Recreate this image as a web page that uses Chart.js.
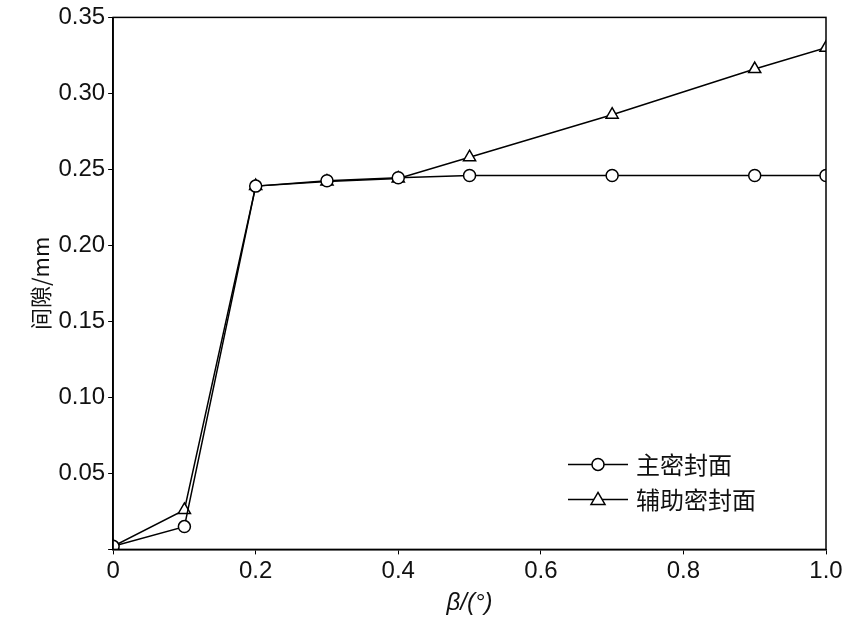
<!DOCTYPE html>
<html><head><meta charset="utf-8">
<script src="https://cdn.jsdelivr.net/npm/chart.js@4/dist/chart.umd.min.js"></script>
<style>body{margin:0;background:#fff}#wrap{width:846px;height:626px}</style>
</head><body><div id="wrap"><canvas id="c"></canvas></div>
<script>
const betaValues = [0, 0.1, 0.2, 0.3, 0.4, 0.5, 0.7, 0.9, 1.0];
const mainSeal = [0.002, 0.015, 0.239, 0.2425, 0.2445, 0.246, 0.246, 0.246, 0.246];
const auxSeal = [0.002, 0.026, 0.239, 0.242, 0.244, 0.258, 0.286, 0.316, 0.330];
const seriesNames = ['主密封面', '辅助密封面'];

const font = "'Liberation Sans', Arial, sans-serif";

const frame = {
  id: 'frame',
  afterDraw(chart) {
    const {ctx, chartArea: a} = chart;
    ctx.save();
    ctx.strokeStyle = '#000'; ctx.lineWidth = 1.5;
    ctx.strokeRect(a.left, a.top, a.right - a.left, a.bottom - a.top);
    // legend
    const lx = a.right - 258, ly = [a.bottom - 85, a.bottom - 50];
    ctx.font = "24px 'Noto Sans CJK SC'";
    ctx.fillStyle = '#111'; ctx.textBaseline = 'middle';
    seriesNames.forEach((n, i) => {
      const y = ly[i];
      ctx.lineWidth = 1.5;
      ctx.beginPath(); ctx.moveTo(lx, y); ctx.lineTo(lx + 60, y); ctx.stroke();
      ctx.beginPath();
      if (i === 0) { ctx.arc(lx + 30, y, 6, 0, Math.PI * 2); }
      else { ctx.moveTo(lx + 30, y - 7); ctx.lineTo(lx + 37, y + 5); ctx.lineTo(lx + 23, y + 5); ctx.closePath(); }
      ctx.fillStyle = '#fff'; ctx.fill(); ctx.stroke();
      ctx.fillStyle = '#111';
      ctx.fillText(n, lx + 68, y);
    });
    ctx.restore();
  }
};

new Chart(document.getElementById('c'), {
  type: 'line',
  data: {
    datasets: [
      { label: seriesNames[0], data: betaValues.map((x, i) => ({x, y: mainSeal[i]})), borderColor: '#000', borderWidth: 1.5, backgroundColor: '#fff', pointStyle: 'circle', pointRadius: 6, pointBorderWidth: 1.5, tension: 0 },
      { label: seriesNames[1], data: betaValues.map((x, i) => ({x, y: auxSeal[i]})), borderColor: '#000', borderWidth: 1.5, backgroundColor: '#fff', pointStyle: 'triangle', pointRadius: 7, pointBorderWidth: 1.5, tension: 0 }
    ]
  },
  options: {
    responsive: true, maintainAspectRatio: false, animation: false,
    layout: { padding: { top: 12, right: 20, bottom: 0, left: 23 } },
    plugins: { legend: { display: false }, tooltip: { enabled: false } },
    scales: {
      x: {
        type: 'linear', min: 0, max: 1,
        grid: { display: true, drawOnChartArea: false, tickLength: 5, color: '#000' },
        border: { color: '#000', width: 1.5 },
        ticks: { stepSize: 0.2, color: '#111', font: { family: font, size: 24 }, callback: v => v === 0 ? '0' : (v === 1 ? '1.0' : String(+v.toFixed(1))) },
        title: { display: true, text: 'β/(°)', color: '#111', font: { family: font, size: 24, style: 'italic' }, padding: { top: 0, bottom: 8 } }
      },
      y: {
        min: 0, max: 0.35,
        grid: { display: true, drawOnChartArea: false, tickLength: 5, color: '#000' },
        border: { color: '#000', width: 1.5 },
        ticks: { stepSize: 0.05, color: '#111', font: { family: font, size: 24 }, callback: v => v === 0 ? '' : v.toFixed(2) },
        title: { display: true, text: '间隙/mm', color: '#111', font: { family: "'Noto Sans CJK SC'", size: 22 }, padding: { bottom: 2 } }
      }
    }
  },
  plugins: [frame]
});
</script></body></html>
